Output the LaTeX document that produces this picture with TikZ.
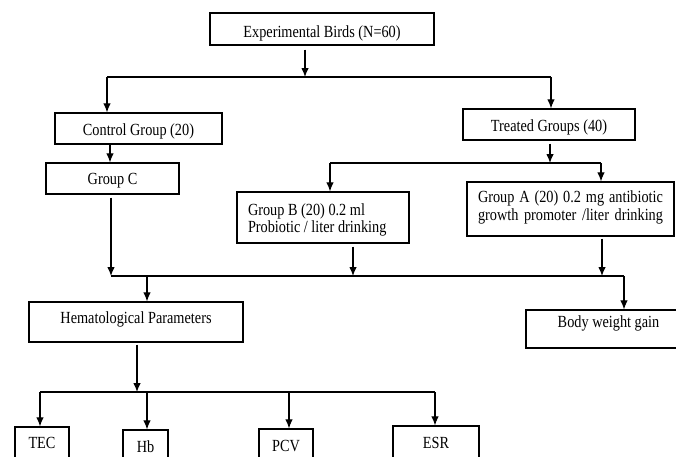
\documentclass[tikz,border=0pt]{standalone}
\usepackage{fontspec}
\setmainfont{Liberation Serif}[FakeStretch=0.84]
\usetikzlibrary{arrows.meta}
\newcommand\dn[2]{\raisebox{-#1pt}{#2}}
\begin{document}
\begin{tikzpicture}[x=1pt,y=-1pt,
  box/.style={draw, line width=1.3pt, inner sep=0pt, text height=0pt, text depth=0pt,
    font=\fontsize{17}{18}\selectfont},
  arr/.style={-{Latex[length=9pt,width=7.5pt]}, line width=1.1pt},
  ln/.style={line width=1.1pt}]
\useasboundingbox (0,0) rectangle (676,456);

% boxes
\node[box, minimum width=224, minimum height=32] (exp) at (322,29) {\dn{8}{Experimental Birds (N=60)}};
\node[box, minimum width=167, minimum height=31] (ctrl) at (138.5,128.5) {\dn{6.5}{Control Group (20)}};
\node[box, minimum width=172, minimum height=31] (treat) at (549,124.5) {\dn{7}{Treated Groups (40)}};
\node[box, minimum width=133, minimum height=31] (grpc) at (112.5,178.5) {\dn{6}{Group C}};
\node[box, minimum width=172, minimum height=51, font=\fontsize{17}{17}\selectfont] (grpb) at (323,217.5)
  {\dn{-2.5}{\parbox[t]{150pt}{\raggedright Group B (20) 0.2 ml\\Probiotic / liter drinking}}};
\node[box, minimum width=207, minimum height=54] (grpa) at (570.5,209)
  {\dn{-7}{\parbox[t]{185pt}{\makebox[185pt][s]{Group A (20) 0.2 mg antibiotic}\\[0pt]\makebox[185pt][s]{growth promoter /liter drinking}}}};
\node[box, minimum width=214, minimum height=40] (hema) at (136,322) {\dn{1.3}{Hematological Parameters}};
\node[box, minimum width=165, minimum height=38] (body) at (608.5,329) {\dn{-1.3}{Body weight gain}};
\node[box, minimum width=54, minimum height=44] (tec) at (42,449) {\dn{-1}{TEC}};
\node[box, minimum width=45, minimum height=44] (hb) at (145.5,452) {\dn{0}{Hb}};
\node[box, minimum width=54, minimum height=44] (pcv) at (286,451) {\dn{0}{PCV}};
\node[box, minimum width=86, minimum height=44] (esr) at (436,448) {\dn{0}{ESR}};

% junction points
\coordinate (j1) at (305,77);
\coordinate (jl) at (107,77);
\coordinate (jr) at (551,77);
\coordinate (xc) at (110,0);
\coordinate (j2) at (550,163);
\coordinate (jb) at (330,163);
\coordinate (ja) at (601,163);
\coordinate (k0) at (111,276);
\coordinate (kb) at (353,276);
\coordinate (ka) at (602,276);
\coordinate (kh) at (147,276);
\coordinate (kw) at (624,276);
\coordinate (m) at (137,392);
\coordinate (m0) at (40,392);
\coordinate (m1) at (147,392);
\coordinate (m2) at (289,392);
\coordinate (m3) at (435,392);

% connectors
\draw[arr] ([yshift=-4pt]exp.south -| j1) -- (j1);
\draw[ln] (jl) -- (jr);
\draw[arr] (jl) -- (ctrl.north -| jl);
\draw[arr] (jr) -- (treat.north -| jr);
\draw[arr] (ctrl.south -| xc) -- (grpc.north -| xc);
\draw[arr] ([yshift=-3pt]treat.south -| j2) -- (j2);
\draw[ln] (jb) -- (ja);
\draw[arr] (jb) -- (grpb.north -| jb);
\draw[arr] (ja) -- (grpa.north -| ja);
\draw[arr] ([yshift=-3pt]grpc.south -| k0) -- (k0);
\draw[arr] ([yshift=-3pt]grpb.south -| kb) -- (kb);
\draw[arr] ([yshift=-2pt]grpa.south -| ka) -- (ka);
\draw[ln] (k0) -- (kw);
\draw[arr] (kh) -- (hema.north -| kh);
\draw[arr] (kw) -- (body.north -| kw);
\draw[arr] ([yshift=-2pt]hema.south -| m) -- (m);
\draw[ln] (m0) -- (m3);
\draw[arr] (m0) -- (tec.north -| m0);
\draw[arr] (m1) -- (hb.north -| m1);
\draw[arr] (m2) -- (pcv.north -| m2);
\draw[arr] (m3) -- (esr.north -| m3);
\end{tikzpicture}
\end{document}
